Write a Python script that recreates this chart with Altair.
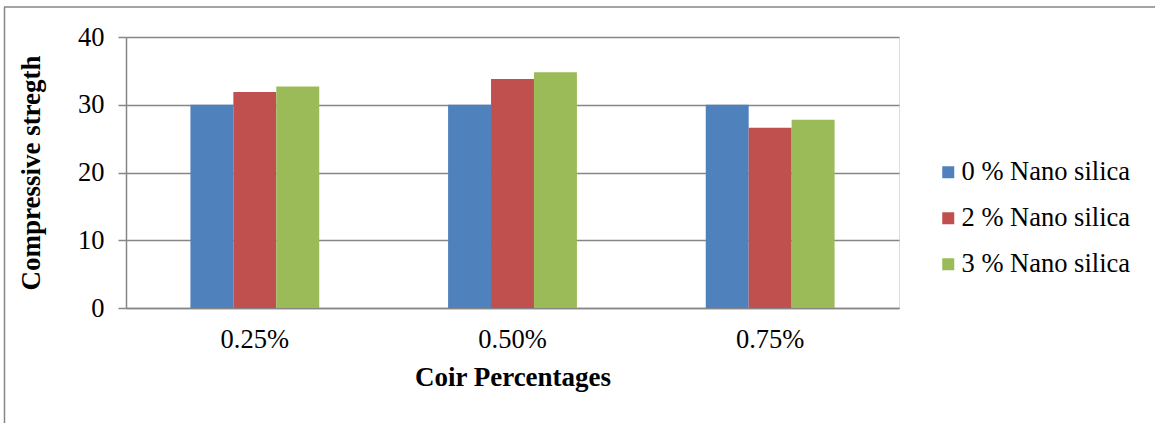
import altair as alt
import pandas as pd

# Coir fibre content (x categories) and nano-silica replacement levels (series)
coir = ["0.25%", "0.50%", "0.75%"]
series = ["0 % Nano silica", "2 % Nano silica", "3 % Nano silica"]
colors = ["#4F81BD", "#C0504D", "#9BBB59"]

# Compressive strength for each series, ordered like `coir`
ns0 = [30.0, 30.0, 30.0]
ns2 = [31.9, 33.8, 26.6]
ns3 = [32.7, 34.8, 27.8]

rows = []
for name, vals in zip(series, [ns0, ns2, ns3]):
    for c, v in zip(coir, vals):
        rows.append({"coir": c, "series": name, "strength": v})
df = pd.DataFrame(rows)

FONT = "Liberation Serif"
GRAY = "#868686"
W, H = 773, 271
PAD_L, PAD_T = 126, 37
TOTAL_W, TOTAL_H = 1155, 423
LABEL_SIZE = 26.5
TITLE_SIZE = 27

bars = alt.Chart(df).mark_bar().encode(
    x=alt.X(
        "coir:N",
        sort=coir,
        scale=alt.Scale(paddingInner=0.5, paddingOuter=0.25),
        axis=alt.Axis(
            title="Coir Percentages",
            labelAngle=0,
            ticks=False,
            labelFont=FONT,
            labelFontSize=LABEL_SIZE,
            labelColor="black",
            labelPadding=18,
            titleFont=FONT,
            titleFontSize=TITLE_SIZE,
            titleFontWeight="bold",
            titleColor="black",
            titlePadding=12,
            domainColor=GRAY,
            domainWidth=1.5,
        ),
    ),
    xOffset=alt.XOffset("series:N", sort=series, scale=alt.Scale(paddingInner=0, paddingOuter=0)),
    y=alt.Y(
        "strength:Q",
        scale=alt.Scale(domain=[0, 40], nice=False),
        axis=alt.Axis(
            title="Compressive stregth",
            values=[0, 10, 20, 30, 40],
            tickSize=8,
            tickColor=GRAY,
            tickWidth=1.5,
            gridColor=GRAY,
            gridWidth=1.5,
            domainColor=GRAY,
            domainWidth=1.5,
            labelFont=FONT,
            labelFontSize=LABEL_SIZE,
            labelColor="black",
            labelPadding=14,
            titleFont=FONT,
            titleFontSize=TITLE_SIZE,
            titleFontWeight="bold",
            titleColor="black",
            titlePadding=32,
        ),
    ),
    color=alt.Color(
        "series:N",
        sort=series,
        scale=alt.Scale(domain=series, range=colors),
        legend=alt.Legend(
            title=None,
            orient="none",
            legendX=809,
            legendY=122,
            symbolType="square",
            symbolSize=144,
            symbolStrokeWidth=0,
            labelFont=FONT,
            labelFontSize=LABEL_SIZE,
            labelColor="black",
            labelLimit=400,
            labelOffset=0,
            rowPadding=19,
            padding=0,
        ),
    ),
)

# Outer chart frame: top and left edges
frame_src = pd.DataFrame({"k": [0]})
top_edge = alt.Chart(frame_src).mark_rule(color=GRAY, strokeWidth=1.5).encode(
    x=alt.value(4 - PAD_L), x2=alt.value(TOTAL_W - PAD_L), y=alt.value(7 - PAD_T)
)
left_edge = alt.Chart(frame_src).mark_rule(color=GRAY, strokeWidth=1.5).encode(
    x=alt.value(4.5 - PAD_L), y=alt.value(7 - PAD_T), y2=alt.value(TOTAL_H - PAD_T)
)

chart = (
    alt.layer(bars, top_edge, left_edge)
    .properties(
        width=W,
        height=H,
        autosize=alt.AutoSizeParams(type="none"),
        padding={"left": PAD_L, "top": PAD_T, "right": TOTAL_W - PAD_L - W, "bottom": TOTAL_H - PAD_T - H},
        background="white",
    )
    .configure_view(stroke=None)
    .configure(font=FONT)
)

chart.save("out.html", embed_options={"renderer": "svg", "actions": False})
